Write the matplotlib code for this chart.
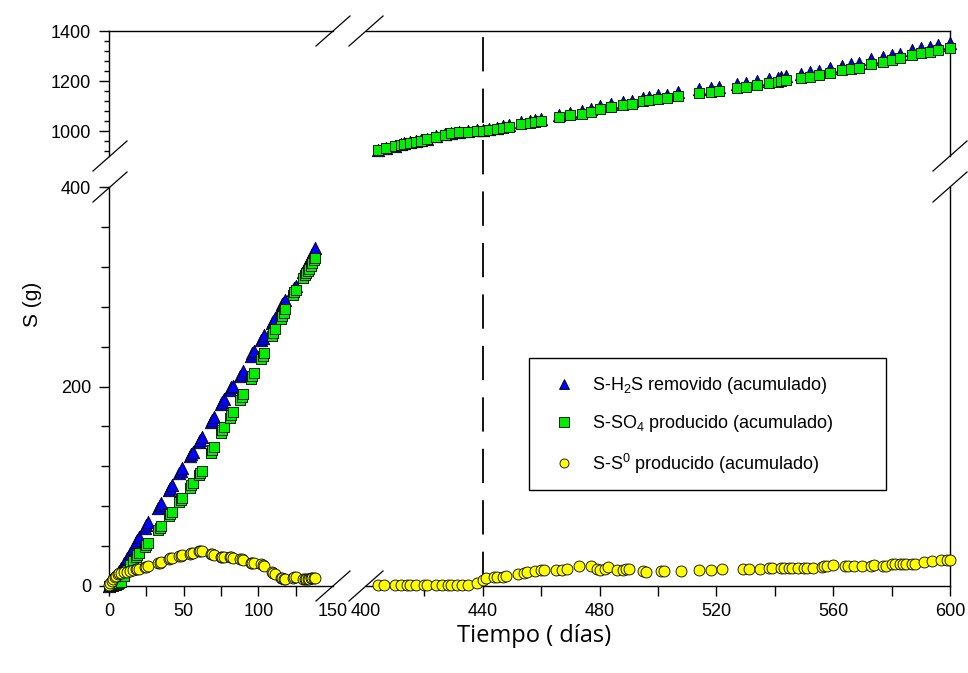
import matplotlib
matplotlib.use("Agg")
import matplotlib.pyplot as plt
from matplotlib.lines import Line2D
from matplotlib.patches import Rectangle

plt.rcParams["font.family"] = ["Liberation Sans", "DejaVu Sans"]
plt.rcParams["mathtext.default"] = "regular"

# ---- data: days 0-138 (left panel) ----
days_l = [0, 1, 2, 3, 4, 5, 6, 7, 8, 10, 12, 14, 16, 18, 19, 20, 24, 25, 26,
          33, 34, 35, 40, 41, 42, 47, 48, 49, 54, 55, 56, 60, 61, 62, 68, 69, 70,
          75, 76, 77, 81, 82, 83, 88, 89, 90, 95, 96, 97, 102, 103, 104, 109, 110,
          111, 115, 116, 117, 118, 123, 124, 125, 130, 131, 132, 133, 134, 135,
          136, 137, 138]
h2s_l = [0, 2, 4, 6, 8, 10, 13, 15, 18, 23, 28, 33, 38, 44, 46, 49, 58, 61, 64,
         78, 81, 83, 96, 98, 101, 113, 115, 118, 130, 132, 134, 144, 146, 149,
         164, 166, 169, 182, 184, 187, 196, 199, 201, 211, 213, 216, 231, 234,
         236, 247, 249, 252, 264, 266, 269, 280, 283, 285, 287, 297, 299, 301,
         315, 318, 321, 324, 327, 330, 333, 336, 339]
so4_l = [0, 0, 0, 0, 1, 1, 2, 3, 4, 10, 16, 21, 25, 29, 31, 33, 39, 41, 43,
         56, 58, 60, 70, 72, 74, 84, 86, 88, 98, 101, 103, 111, 113, 115, 133,
         136, 139, 153, 156, 159, 168, 171, 174, 186, 189, 192, 208, 211, 214,
         228, 231, 234, 251, 254, 258, 268, 271, 274, 278, 292, 295, 297, 309,
         312, 314, 316, 318, 321, 324, 327, 329]
s0_l = [1, 3, 5, 7, 9, 10, 12, 13, 13, 14, 14, 15, 16, 17, 17, 17, 19, 19, 20,
        23, 23, 24, 27, 28, 28, 30, 30, 31, 32, 33, 33, 35, 35, 35, 32, 32, 31,
        29, 29, 29, 29, 29, 28, 27, 27, 26, 23, 23, 23, 22, 21, 20, 14, 13, 12,
        8, 8, 7, 7, 8, 9, 9, 7, 7, 7, 7, 7, 8, 8, 8, 8]

# ---- data: days 404-600 (right panel) ----
days_r = [404, 407, 410, 412, 413, 415, 417, 419, 421, 424, 427, 429, 432, 435,
          438, 440, 442, 445, 447, 449, 453, 456, 458, 460, 466, 470, 474, 477,
          480, 484, 488, 491, 495, 497, 500, 503, 507, 514, 518, 521, 527, 530,
          534, 538, 541, 542, 544, 549, 552, 555, 559, 563, 566, 569, 573, 577,
          580, 583, 587, 590, 593, 596, 600]
so4_r = [924, 932, 940, 946, 950, 954, 958, 962, 968, 978, 986, 991, 995, 997,
         1000, 1001, 1003, 1009, 1014, 1017, 1028, 1032, 1036, 1041, 1056, 1064,
         1069, 1076, 1089, 1096, 1106, 1108, 1120, 1124, 1129, 1131, 1140, 1152,
         1157, 1161, 1173, 1177, 1184, 1191, 1197, 1200, 1204, 1211, 1217, 1224,
         1233, 1244, 1250, 1253, 1268, 1277, 1284, 1291, 1304, 1311, 1315, 1324,
         1331]
h2s_r = [925, 933, 941, 947, 951, 956, 960, 964, 970, 980, 988, 994, 998, 1000,
         1003, 1005, 1008, 1014, 1019, 1023, 1035, 1039, 1044, 1049, 1065, 1074,
         1079, 1087, 1100, 1108, 1118, 1121, 1133, 1138, 1143, 1146, 1155, 1168,
         1173, 1177, 1189, 1194, 1201, 1208, 1214, 1217, 1222, 1229, 1235, 1242,
         1251, 1262, 1269, 1272, 1287, 1296, 1303, 1310, 1323, 1331, 1335, 1344,
         1351]
days_s0_r = [404, 406, 410, 412, 414, 415, 417, 420, 421, 424, 426, 428, 429,
             431, 433, 435, 438, 440, 441, 444, 445, 447, 448, 452, 454, 455,
             458, 460, 461, 465, 467, 469, 473, 477, 479, 480, 482, 483, 486,
             488, 489, 490, 495, 496, 501, 502, 508, 514, 518, 522, 529, 531,
             535, 538, 539, 542, 543, 545, 546, 548, 550, 551, 553, 556, 557,
             558, 560, 564, 565, 567, 570, 573, 574, 577, 578, 580, 581, 583,
             584, 585, 587, 588, 591, 594, 597, 599, 600]
s0_r = [1, 1, 1, 1, 1, 1, 1, 1, 1, 1, 1, 1, 1, 1, 1, 1, 3, 6, 8, 9, 9, 9, 10,
        12, 13, 14, 15, 16, 16, 16, 16.5, 17, 20, 20, 17, 16, 17, 19, 16, 16.5,
        17, 17, 15, 14.5, 15, 15.5, 15.5, 16, 16.5, 17, 17.5, 17.5, 17.5, 18,
        18, 18, 18, 18, 18, 18, 18, 18.5, 18.5, 19.5, 20, 20.5, 21, 20.5, 20.5,
        20.5, 20, 20.5, 21, 20.5, 20.5, 22, 22, 22, 22, 22, 22, 22, 24.5, 25,
        26.5, 26, 26]

labels = ["S-H$_2$S removido (acumulado)",
          "S-SO$_4$ producido (acumulado)",
          "S-S$^0$ producido (acumulado)"]

W, H = 968, 673
fig = plt.figure(figsize=(W / 100, H / 100), dpi=100)


def box(x0, y0, x1, y1):
    # pixel box (top-left origin) -> figure fractions
    return [x0 / W, 1 - y1 / H, (x1 - x0) / W, (y1 - y0) / H]


ax_ll = fig.add_axes(box(109, 187, 333, 586))
ax_lr = fig.add_axes(box(366, 187, 950, 586))
ax_ul = fig.add_axes(box(109, 31, 333, 156))
ax_ur = fig.add_axes(box(366, 31, 950, 156))

for ax in (ax_ll, ax_lr, ax_ul, ax_ur):
    ax.set_facecolor("none")
    for s in ax.spines.values():
        s.set_linewidth(1.0)
    ax.tick_params(direction="out", length=7, width=1.0, labelsize=13)
    ax.tick_params(which="minor", direction="out", length=7, width=1.0)
    ax.tick_params(axis="x", pad=5)
    ax.tick_params(axis="y", pad=6)

tri = dict(marker="^", s=80, c="#0000ff", edgecolors="black", linewidths=0.6,
           clip_on=False)
sq = dict(marker="s", s=60, c="#00ee00", edgecolors="black", linewidths=0.6,
          clip_on=False)
cir = dict(marker="o", s=62, c="#ffff00", edgecolors="black", linewidths=0.6,
           clip_on=False)

ax_ll.scatter(days_l, h2s_l, zorder=3, **tri)
ax_ll.scatter(days_l, so4_l, zorder=4, **sq)
ax_ll.scatter(days_l, s0_l, zorder=5, **cir)
ax_ur.scatter(days_r, h2s_r, zorder=3, **tri)
ax_ur.scatter(days_r, so4_r, zorder=4, **sq)
ax_lr.scatter(days_s0_r, s0_r, zorder=5, **cir)

ax_ll.set_xlim(0, 150)
ax_ul.set_xlim(0, 150)
ax_lr.set_xlim(400, 600)
ax_ur.set_xlim(400, 600)
ax_ll.set_ylim(0, 400)
ax_lr.set_ylim(0, 400)
ax_ul.set_ylim(900, 1400)
ax_ur.set_ylim(900, 1400)

# spines
ax_ll.spines[["top", "right"]].set_visible(False)
ax_lr.spines[["top", "left"]].set_visible(False)
ax_ul.spines[["bottom", "right"]].set_visible(False)
ax_ur.spines[["bottom", "left"]].set_visible(False)

# ticks
ax_ll.set_xticks([0, 50, 100, 150])
ax_ll.set_xticks([25, 75, 125], minor=True)
ax_ll.set_yticks([0, 200, 400])
ax_ll.set_yticks([40, 80, 120, 160, 240, 280, 320, 360], minor=True)
ax_ll.tick_params(axis="y", which="minor", length=5.5)
ax_lr.set_xticks([400, 440, 480, 520, 560, 600])
ax_lr.set_xticks([420, 460, 500, 540, 580], minor=True)
ax_lr.tick_params(axis="y", which="both", left=False, labelleft=False)
ax_ul.set_yticks([1000, 1200, 1400])
ax_ul.set_yticks([920, 960, 1040, 1080, 1120, 1160, 1240, 1280, 1320, 1360],
                 minor=True)
ax_ul.tick_params(axis="y", which="minor", length=3.5)
ax_ul.tick_params(axis="x", which="both", bottom=False, labelbottom=False)
ax_ur.tick_params(axis="both", which="both", bottom=False, labelbottom=False,
                  left=False, labelleft=False)

# no tick marks at the break (labels only)
ax_ll.xaxis.get_major_ticks()[-1].tick1line.set_visible(False)
ax_lr.xaxis.get_major_ticks()[0].tick1line.set_visible(False)

# dashed line at day 440 through both right panels
x440 = ax_lr.transData.transform((440, 0))[0] / W
fig.add_artist(Line2D([x440, x440], [1 - 586 / H, 1 - 33 / H],
                      transform=fig.transFigure, color="black", lw=1.3,
                      dashes=(19, 9.5), zorder=-1))

# break marks


def brk(px, py):
    fig.add_artist(Line2D([(px - 17) / W, (px + 17) / W],
                          [1 - (py + 15) / H, 1 - (py - 15) / H],
                          transform=fig.transFigure, color="black", lw=0.9))


for p in [(110, 156), (110, 187), (333, 31), (366, 31), (333, 586),
          (366, 586), (950, 156), (950, 187)]:
    brk(*p)

# legend (frame drawn separately to get the wide box)
handles = [Line2D([], [], ls="none", marker="^", ms=7.5, mfc="#0000ff",
                  mec="black", mew=0.6),
           Line2D([], [], ls="none", marker="s", ms=6.5, mfc="#00ee00",
                  mec="black", mew=0.6),
           Line2D([], [], ls="none", marker="o", ms=6.5, mfc="#ffff00",
                  mec="black", mew=0.6)]
fig.add_artist(Rectangle((529 / W, 1 - 490 / H), (886 - 529) / W,
                         (490 - 358) / H, transform=fig.transFigure,
                         facecolor="white", edgecolor="black", lw=1.0,
                         zorder=6))
leg = fig.legend(handles, labels, loc="upper left",
                 bbox_to_anchor=(531 / W, 1 - 359 / H), fontsize=13,
                 frameon=False, borderpad=0.9, labelspacing=0.95,
                 handletextpad=0.7, borderaxespad=0, handlelength=1.8)
leg.set_zorder(7)

fig.text(32 / W, 1 - 304 / H, "S (g)", rotation=90, ha="center", va="center",
         fontsize=15)
fig.text(534 / W, 1 - 636 / H, "Tiempo ( días)", ha="center", va="center",
         fontsize=17, family=["Open Sans", "DejaVu Sans"])

fig.savefig("out.png", dpi=100)
